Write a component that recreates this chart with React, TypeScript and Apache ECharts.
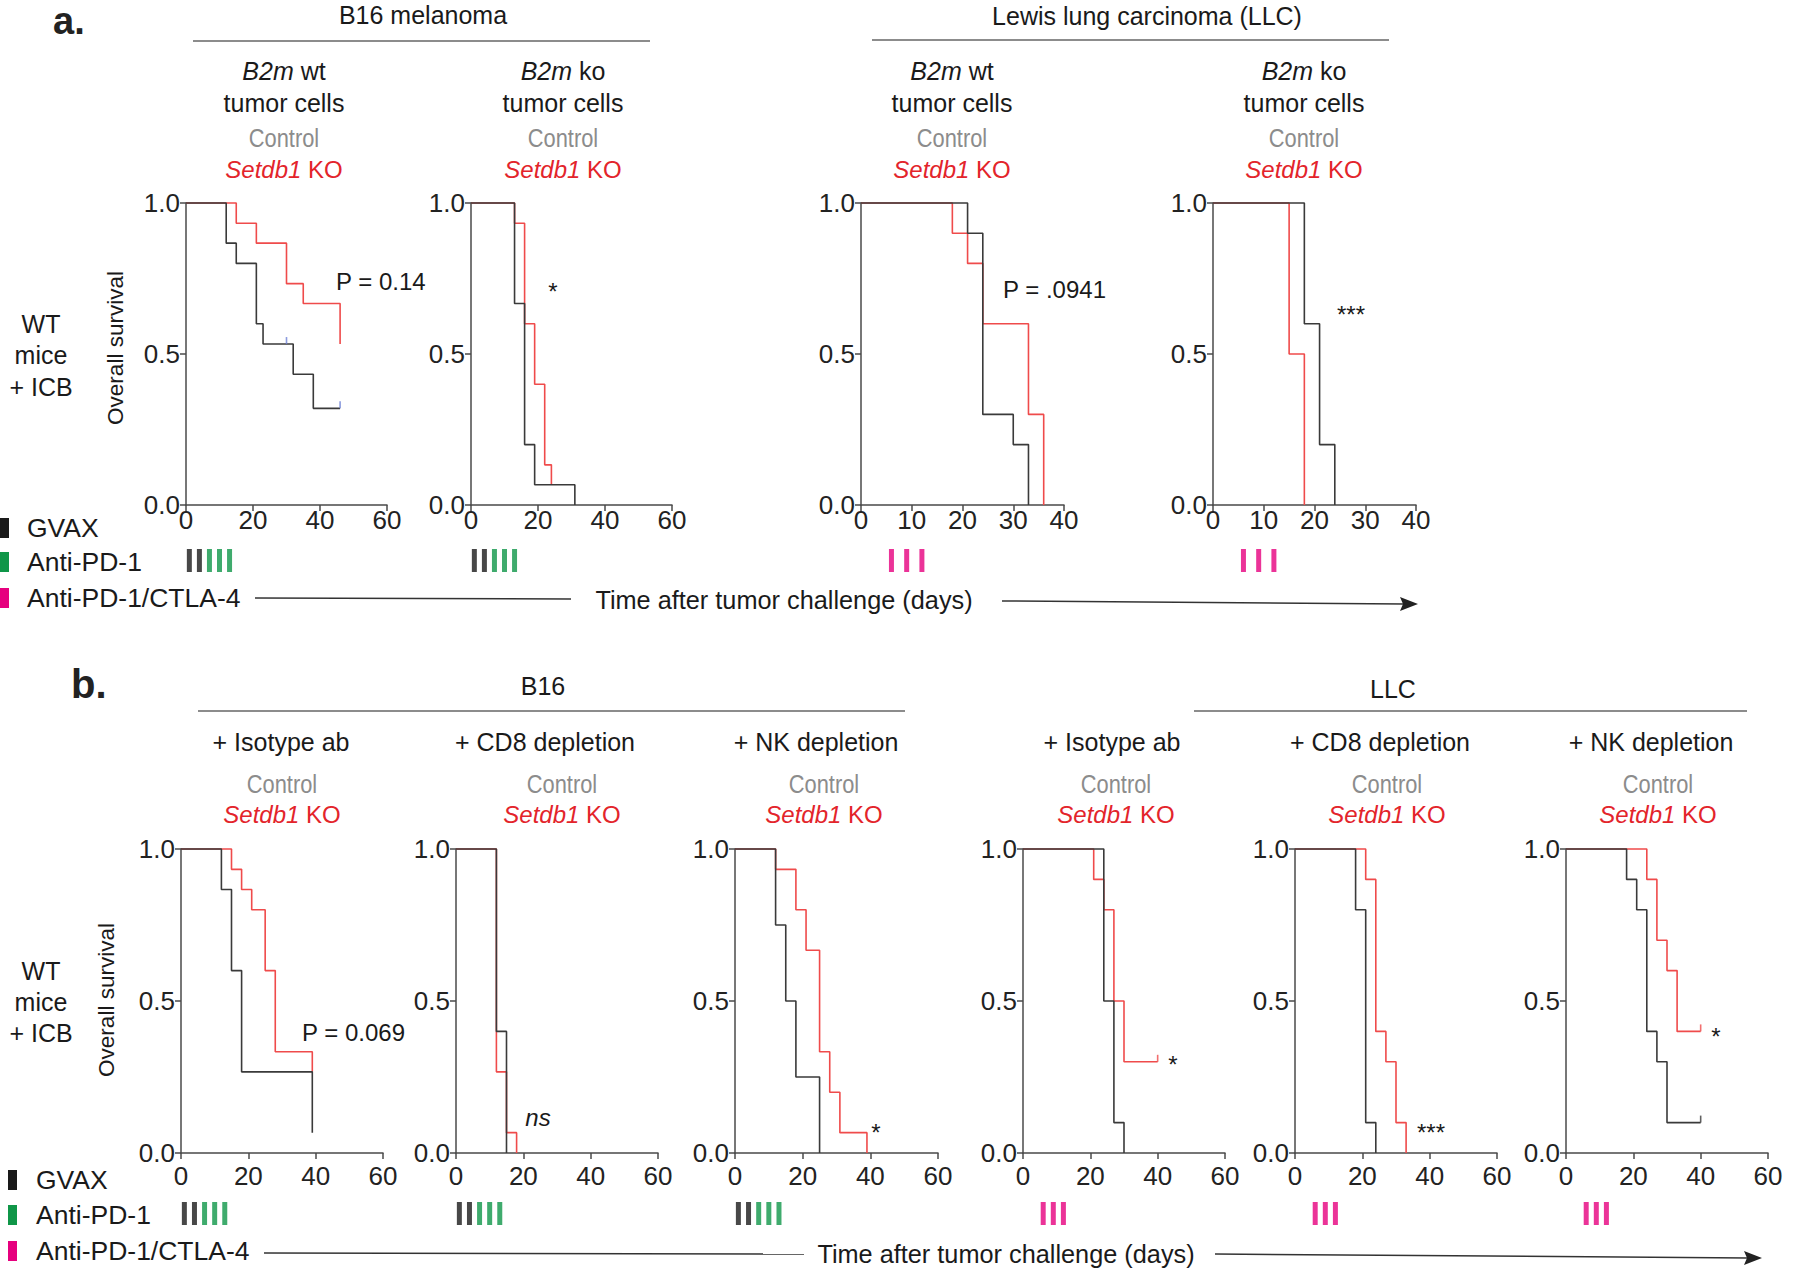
import React, { useEffect, useRef } from "react";
import * as echarts from "echarts";

const W = 1800;
const H = 1269;
const FONT = '"Liberation Sans", Arial, Helvetica, sans-serif';
const BLACK = "#3a3a3a";
const RED = "#ef4b4b";
const HEAD_RED = "#e3242b";
const GREY = "#8c8c8c";
const GREEN = "#0f9648";
const PINK = "#e6007e";
const AXIS = "#4a4a4a";
const CENSOR_BLUE = "#6f82d6";

// ---- Kaplan–Meier data: [day, survival fraction] ----
const a1Control = [[0, 1], [12, 0.867], [15, 0.8], [21, 0.6], [23, 0.533], [32, 0.433], [38, 0.32], [46, 0.32]];
const a1Setdb1 = [[0, 1], [15, 0.933], [21, 0.867], [30, 0.733], [35, 0.667], [46, 0.533]];
const a2Control = [[0, 1], [13, 0.667], [16, 0.2], [19, 0.067], [31, 0]];
const a2Setdb1 = [[0, 1], [13, 0.933], [16, 0.6], [19, 0.4], [22, 0.133], [24, 0.067]];
const a3Control = [[0, 1], [21, 0.9], [24, 0.3], [30, 0.2], [33, 0]];
const a3Setdb1 = [[0, 1], [18, 0.9], [21, 0.8], [24, 0.6], [33, 0.3], [36, 0]];
const a4Control = [[0, 1], [18, 0.6], [21, 0.2], [24, 0]];
const a4Setdb1 = [[0, 1], [15, 0.5], [18, 0]];
const b1Control = [[0, 1], [12, 0.867], [15, 0.6], [18, 0.267], [39, 0.067]];
const b1Setdb1 = [[0, 1], [15, 0.933], [18, 0.867], [21, 0.8], [25, 0.6], [28, 0.333], [39, 0.267]];
const b2Control = [[0, 1], [12, 0.4], [15, 0]];
const b2Setdb1 = [[0, 1], [12, 0.267], [15, 0.067], [18, 0]];
const b3Control = [[0, 1], [12, 0.75], [15, 0.5], [18, 0.25], [25, 0]];
const b3Setdb1 = [[0, 1], [12, 0.933], [18, 0.8], [21, 0.667], [25, 0.333], [28, 0.2], [31, 0.067], [39, 0]];
const b4Control = [[0, 1], [24, 0.5], [27, 0.1], [30, 0]];
const b4Setdb1 = [[0, 1], [21, 0.9], [24, 0.8], [27, 0.5], [30, 0.3], [40, 0.3]];
const b5Control = [[0, 1], [18, 0.8], [21, 0.1], [24, 0]];
const b5Setdb1 = [[0, 1], [21, 0.9], [24, 0.4], [27, 0.3], [30, 0.1], [33, 0]];
const b6Control = [[0, 1], [18, 0.9], [21, 0.8], [24, 0.4], [27, 0.3], [30, 0.1], [40, 0.1]];
const b6Setdb1 = [[0, 1], [24, 0.9], [27, 0.7], [30, 0.6], [33, 0.4], [40, 0.4]];

// censored observations
const a1ControlCensor = [[30, 0.533], [46, 0.32]];
const b4Setdb1Censor = [[40, 0.3]];
const b6ControlCensor = [[40, 0.1]];
const b6Setdb1Censor = [[40, 0.4]];

// treatment schedules (days)
const b16Gvax = [1, 4];
const b16Pd1 = [7, 10, 13];
const llcCombo = [6, 9, 12];

// axis ticks
const yTicks = [0, 0.5, 1];
const b16Days = [0, 20, 40, 60];
const llcDaysA = [0, 10, 20, 30, 40];

// texts
const headersA = [
  { gene: "B2m", status: "wt" },
  { gene: "B2m", status: "ko" },
  { gene: "B2m", status: "wt" },
  { gene: "B2m", status: "ko" },
];
const headersB = ["+ Isotype ab", "+ CD8 depletion", "+ NK depletion", "+ Isotype ab", "+ CD8 depletion", "+ NK depletion"];

type Panel = {
  left: number; top: number; width: number; height: number;
  ticks: number[]; control: number[][]; ko: number[][];
  cCensor?: number[][]; kCensor?: number[][]; cCensorColor?: string;
  model: "b16" | "llc"; schedTop: number; labelMargin: number;
};

const panels: Panel[] = [
  { left: 186, top: 203, width: 201, height: 302, ticks: b16Days, control: a1Control, ko: a1Setdb1, cCensor: a1ControlCensor, cCensorColor: CENSOR_BLUE, model: "b16", schedTop: 549, labelMargin: 2 },
  { left: 471, top: 203, width: 201, height: 302, ticks: b16Days, control: a2Control, ko: a2Setdb1, model: "b16", schedTop: 549, labelMargin: 2 },
  { left: 861, top: 203, width: 203, height: 302, ticks: llcDaysA, control: a3Control, ko: a3Setdb1, model: "llc", schedTop: 549, labelMargin: 2 },
  { left: 1213, top: 203, width: 203, height: 302, ticks: llcDaysA, control: a4Control, ko: a4Setdb1, model: "llc", schedTop: 549, labelMargin: 2 },
  { left: 181, top: 849, width: 202, height: 304, ticks: b16Days, control: b1Control, ko: b1Setdb1, model: "b16", schedTop: 1202, labelMargin: 10 },
  { left: 456, top: 849, width: 202, height: 304, ticks: b16Days, control: b2Control, ko: b2Setdb1, model: "b16", schedTop: 1202, labelMargin: 10 },
  { left: 735, top: 849, width: 203, height: 304, ticks: b16Days, control: b3Control, ko: b3Setdb1, model: "b16", schedTop: 1202, labelMargin: 10 },
  { left: 1023, top: 849, width: 202, height: 304, ticks: b16Days, control: b4Control, ko: b4Setdb1, kCensor: b4Setdb1Censor, model: "llc", schedTop: 1202, labelMargin: 10 },
  { left: 1295, top: 849, width: 202, height: 304, ticks: b16Days, control: b5Control, ko: b5Setdb1, model: "llc", schedTop: 1202, labelMargin: 10 },
  { left: 1566, top: 849, width: 202, height: 304, ticks: b16Days, control: b6Control, ko: b6Setdb1, cCensor: b6ControlCensor, kCensor: b6Setdb1Censor, cCensorColor: BLACK, model: "llc", schedTop: 1202, labelMargin: 10 },
];

function txt(x: number, y: number, text: string, o: any = {}, extra: any = {}) {
  return {
    type: "text", x, y, silent: true, ...extra,
    style: { text, fontFamily: FONT, fontSize: 25, fill: "#1a1a1a", align: "center", verticalAlign: "middle", ...o },
  };
}
function hline(x1: number, y1: number, x2: number, y2: number, color = "#555", w = 1.5) {
  return { type: "line", silent: true, shape: { x1, y1, x2, y2 }, style: { stroke: color, lineWidth: w } };
}
function italicRich(fill: string, size = 25) {
  return { i: { fontStyle: "italic", fontFamily: FONT, fontSize: size, fill } };
}

function buildOption() {
  const grid: any[] = [];
  const xAxis: any[] = [];
  const yAxis: any[] = [];
  const series: any[] = [];

  panels.forEach((p, i) => {
    const xMax = p.ticks[p.ticks.length - 1];
    const xStep = p.ticks[1] - p.ticks[0];
    const g = i * 2;
    grid.push({ left: p.left, top: p.top, width: p.width, height: p.height, containLabel: false });
    grid.push({ left: p.left, top: p.schedTop, width: p.width, height: 23, containLabel: false });
    xAxis.push({
      type: "value", gridIndex: g, min: 0, max: xMax, interval: xStep,
      axisLine: { show: true, lineStyle: { color: AXIS, width: 1.5 } },
      axisTick: { show: true, length: 6, lineStyle: { color: AXIS, width: 1.5 } },
      axisLabel: { fontSize: 26, fontFamily: FONT, color: "#222", margin: p.labelMargin },
      splitLine: { show: false },
    });
    yAxis.push({
      type: "value", gridIndex: g, min: yTicks[0], max: yTicks[yTicks.length - 1], interval: yTicks[1] - yTicks[0],
      axisLine: { show: true, lineStyle: { color: AXIS, width: 1.5 } },
      axisTick: { show: true, length: 6, lineStyle: { color: AXIS, width: 1.5 } },
      axisLabel: { fontSize: 26, fontFamily: FONT, color: "#222", margin: 6, formatter: (v: number) => v.toFixed(1) },
      splitLine: { show: false },
    });
    xAxis.push({ type: "value", gridIndex: g + 1, min: 0, max: xMax, show: false });
    yAxis.push({ type: "value", gridIndex: g + 1, min: 0, max: 1, show: false });

    series.push({
      type: "line", xAxisIndex: g, yAxisIndex: g, data: p.ko, step: "end", symbol: "none", clip: false,
      lineStyle: { color: RED, width: 1.6 }, z: 2, silent: true,
    });
    series.push({
      type: "line", xAxisIndex: g, yAxisIndex: g, data: p.control, step: "end", symbol: "none", clip: false,
      lineStyle: { color: BLACK, width: 1.6 }, z: 3, silent: true,
    });
    if (p.cCensor) {
      series.push({
        type: "scatter", xAxisIndex: g, yAxisIndex: g, data: p.cCensor, symbol: "rect", symbolSize: [1.6, 7],
        symbolOffset: [0, -3.5], itemStyle: { color: p.cCensorColor || BLACK }, z: 4, silent: true, clip: false,
      });
    }
    if (p.kCensor) {
      series.push({
        type: "scatter", xAxisIndex: g, yAxisIndex: g, data: p.kCensor, symbol: "rect", symbolSize: [1.6, 7],
        symbolOffset: [0, -3.5], itemStyle: { color: RED }, z: 4, silent: true, clip: false,
      });
    }
    if (p.model === "b16") {
      series.push({
        type: "scatter", xAxisIndex: g + 1, yAxisIndex: g + 1, data: b16Gvax.map((d) => [d, 0.5]),
        symbol: "rect", symbolSize: [5, 23], itemStyle: { color: "#1a1a1a" }, silent: true,
      });
      series.push({
        type: "scatter", xAxisIndex: g + 1, yAxisIndex: g + 1, data: b16Pd1.map((d) => [d, 0.5]),
        symbol: "rect", symbolSize: [5, 23], itemStyle: { color: GREEN }, silent: true,
      });
    } else {
      series.push({
        type: "scatter", xAxisIndex: g + 1, yAxisIndex: g + 1, data: llcCombo.map((d) => [d, 0.5]),
        symbol: "rect", symbolSize: [5, 23], itemStyle: { color: PINK }, silent: true,
      });
    }
  });

  const graphic: any[] = [];
  const controlStyle = { fill: GREY, fontSize: 26 };
  const controlExtra = { scaleX: 0.84 };

  // panel letters
  graphic.push(txt(53, 21, "a.", { fontWeight: "bold", fontSize: 38, align: "left", fill: "#222" }));
  graphic.push(txt(71, 684, "b.", { fontWeight: "bold", fontSize: 40, align: "left", fill: "#222" }));

  // section titles row a
  graphic.push(txt(423, 15, "B16 melanoma"));
  graphic.push(hline(193, 41, 650, 41, "#666"));
  graphic.push(txt(1147, 16, "Lewis lung carcinoma (LLC)"));
  graphic.push(hline(872, 40, 1389, 40, "#666"));

  // headers row a
  const centersA = [284, 563, 952, 1304];
  centersA.forEach((cx, i) => {
    const h = headersA[i];
    graphic.push(txt(cx, 71, `{i|${h.gene}} ${h.status}`, { rich: italicRich("#1a1a1a") }));
    graphic.push(txt(cx, 103, "tumor cells"));
    graphic.push(txt(cx, 138, "Control", controlStyle, controlExtra));
    graphic.push(txt(cx, 169, "{i|Setdb1} KO", { fill: HEAD_RED, fontSize: 24, rich: italicRich(HEAD_RED, 24) }));
  });

  // row a annotations
  graphic.push(txt(336, 281, "P = 0.14", { align: "left", fontSize: 24 }));
  graphic.push(txt(553, 291, "*", { fontSize: 24 }));
  graphic.push(txt(1003, 289, "P = .0941", { align: "left", fontSize: 24 }));
  graphic.push(txt(1351, 314, "***", { fontSize: 24 }));

  // row a side labels
  graphic.push(txt(41, 324, "WT", { fontSize: 25 }));
  graphic.push(txt(41, 355, "mice", { fontSize: 25 }));
  graphic.push(txt(41, 387, "+ ICB", { fontSize: 25 }));
  graphic.push(txt(115, 348, "Overall survival", { fontSize: 22.5 }, { rotation: Math.PI / 2 }));

  // legend row a
  const legA = [
    { y: 528, label: "GVAX", color: "#1a1a1a" },
    { y: 562, label: "Anti-PD-1", color: GREEN },
    { y: 598, label: "Anti-PD-1/CTLA-4", color: PINK },
  ];
  legA.forEach((l) => {
    graphic.push({ type: "rect", silent: true, shape: { x: 0, y: l.y - 10, width: 9, height: 20 }, style: { fill: l.color } });
    graphic.push(txt(27, l.y, l.label, { align: "left", fontSize: 26.5 }));
  });

  // time arrow row a
  graphic.push(hline(255, 598, 571, 599, "#333", 1.5));
  graphic.push(txt(784, 600, "Time after tumor challenge (days)", { fontSize: 25.3 }));
  graphic.push(hline(1002, 601, 1404, 604, "#333", 1.5));
  graphic.push({ type: "polygon", silent: true, shape: { points: [[1418, 604], [1400, 597], [1403, 604], [1400, 611]] }, style: { fill: "#222" } });

  // section titles row b
  graphic.push(txt(543, 686, "B16"));
  graphic.push(hline(198, 711, 905, 711, "#666"));
  graphic.push(txt(1393, 689, "LLC"));
  graphic.push(hline(1194, 711, 1747, 711, "#666"));

  const headCentersB = [281, 545, 816, 1112, 1380, 1651];
  const ctrlCentersB = [282, 562, 824, 1116, 1387, 1658];
  headersB.forEach((h, i) => {
    graphic.push(txt(headCentersB[i], 742, h));
    graphic.push(txt(ctrlCentersB[i], 784, "Control", controlStyle, controlExtra));
    graphic.push(txt(ctrlCentersB[i], 814, "{i|Setdb1} KO", { fill: HEAD_RED, fontSize: 24, rich: italicRich(HEAD_RED, 24) }));
  });

  // row b annotations
  graphic.push(txt(302, 1032, "P = 0.069", { align: "left", fontSize: 24 }));
  graphic.push(txt(538, 1117, "ns", { fontStyle: "italic", fontSize: 24 }));
  graphic.push(txt(876, 1132, "*", { fontSize: 24 }));
  graphic.push(txt(1173, 1064, "*", { fontSize: 24 }));
  graphic.push(txt(1431, 1132, "***", { fontSize: 24 }));
  graphic.push(txt(1716, 1036, "*", { fontSize: 24 }));

  // row b side labels
  graphic.push(txt(41, 971, "WT", { fontSize: 25 }));
  graphic.push(txt(41, 1002, "mice", { fontSize: 25 }));
  graphic.push(txt(41, 1033, "+ ICB", { fontSize: 25 }));
  graphic.push(txt(106, 1000, "Overall survival", { fontSize: 22.5 }, { rotation: Math.PI / 2 }));

  const legB = [
    { y: 1180, label: "GVAX", color: "#1a1a1a" },
    { y: 1215, label: "Anti-PD-1", color: GREEN },
    { y: 1251, label: "Anti-PD-1/CTLA-4", color: PINK },
  ];
  legB.forEach((l) => {
    graphic.push({ type: "rect", silent: true, shape: { x: 8, y: l.y - 10, width: 9, height: 20 }, style: { fill: l.color } });
    graphic.push(txt(36, l.y, l.label, { align: "left", fontSize: 26.5 }));
  });

  graphic.push(hline(264, 1253, 804, 1254, "#333", 1.5));
  graphic.push(txt(1006, 1254, "Time after tumor challenge (days)", { fontSize: 25.3 }));
  graphic.push(hline(1215, 1254, 1748, 1258, "#333", 1.5));
  graphic.push({ type: "polygon", silent: true, shape: { points: [[1762, 1258], [1744, 1251], [1747, 1258], [1744, 1265]] }, style: { fill: "#222" } });

  return {
    animation: false,
    backgroundColor: "#ffffff",
    textStyle: { fontFamily: FONT },
    grid, xAxis, yAxis, series, graphic,
  };
}

export default function App() {
  const ref = useRef<HTMLDivElement>(null);
  useEffect(() => {
    if (!ref.current) return;
    const chart = echarts.init(ref.current, undefined, { renderer: "svg" });
    chart.setOption(buildOption() as any);
    return () => chart.dispose();
  }, []);
  return <div ref={ref} style={{ position: "absolute", left: 0, top: 0, width: W, height: H, background: "#fff" }} />;
}
